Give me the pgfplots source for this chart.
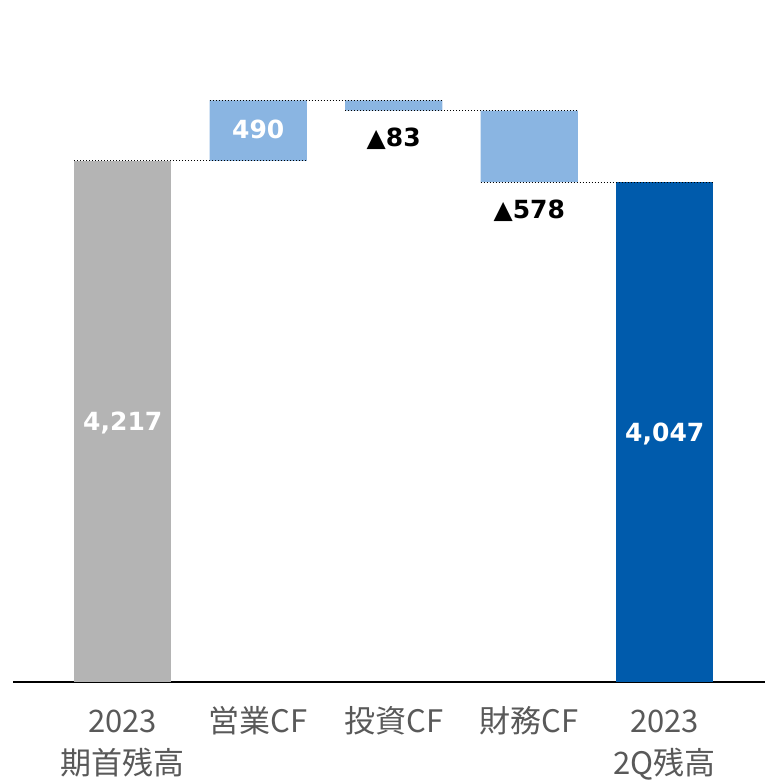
\documentclass[border=0pt]{standalone}
\usepackage{pgfplots}
\pgfplotsset{compat=1.18}
\usepackage{fontspec}
\newfontfamily\cjk{Noto Sans CJK JP}
\newfontfamily\dejavu{DejaVu Sans}
\definecolor{cgray}{HTML}{B4B4B4}
\definecolor{clight}{HTML}{8AB5E2}
\definecolor{cdark}{HTML}{005BAC}
\definecolor{ctext}{HTML}{595959}
\begin{document}
\begin{tikzpicture}
\path[use as bounding box] (0,0) rectangle (382.5pt,390.5pt);
\pgfplotsset{
  common/.style={
    at={(6.5pt,49.5pt)}, anchor=south west,
    width=376pt, height=341pt, scale only axis,
    xmin=-0.81, xmax=4.74, ymin=0, ymax=5520,
  }
}
\begin{axis}[common,
  ybar stacked, bar width=0.716,
  axis x line*=bottom, axis y line=none,
  x axis line style={-, line width=1pt, black},
  xtick={0,1,2,3,4},
  xticklabels={{2023\\期首残高},{営業CF\\\mbox{}},{投資CF\\\mbox{}},{財務CF\\\mbox{}},{2023\\2Q残高}},
  major tick length=0pt,
  xticklabel style={align=center, anchor=base, yshift=-46pt,
    font=\cjk\fontsize{15.5}{21}\selectfont, text=ctext},
]
\addplot[draw=none, fill=none] coordinates {(0,0) (1,4217) (2,4624) (3,4046) (4,0)};
\addplot[draw=none, fill=cgray] coordinates {(0,4217) (1,0) (2,0) (3,0) (4,0)};
\addplot[draw=none, fill=clight] coordinates {(0,0) (1,490) (2,83) (3,578) (4,0)};
\addplot[draw=none, fill=cdark] coordinates {(0,0) (1,0) (2,0) (3,0) (4,4047)};
\end{axis}
\begin{axis}[common, hide axis]
\addplot[black, densely dotted, line width=0.5pt] coordinates {(-0.358,4217) (1.358,4217)};
\addplot[black, densely dotted, line width=0.5pt] coordinates {(0.642,4707) (2.358,4707)};
\addplot[black, densely dotted, line width=0.5pt] coordinates {(1.642,4624) (3.358,4624)};
\addplot[black, densely dotted, line width=0.5pt] coordinates {(2.642,4046) (4.358,4046)};
\node[font=\dejavu\bfseries\fontsize{12.5}{15}\selectfont, text=white] at (axis cs:0,2096) {4,217};
\node[font=\dejavu\bfseries\fontsize{12.5}{15}\selectfont, text=white] at (axis cs:1,4475) {490};
\node[font=\dejavu\bfseries\fontsize{12.5}{15}\selectfont, text=black] at (axis cs:2,4395) {▲83};
\node[font=\dejavu\bfseries\fontsize{12.5}{15}\selectfont, text=black] at (axis cs:3,3812) {▲578};
\node[font=\dejavu\bfseries\fontsize{12.5}{15}\selectfont, text=white] at (axis cs:4,2007) {4,047};
\end{axis}
\end{tikzpicture}
\end{document}
